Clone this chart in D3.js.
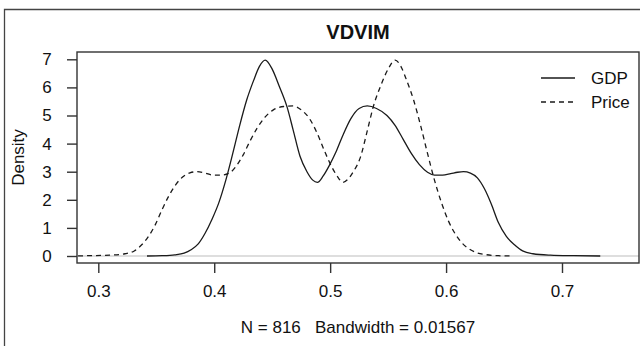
<!DOCTYPE html>
<html>
<head>
<meta charset="utf-8">
<script src="https://cdn.jsdelivr.net/npm/d3@7"></script>
<style>
  body { margin: 0; background: #fff; }
  svg text { font-family: "Liberation Sans", Arial, sans-serif; fill: #111; }
</style>
</head>
<body>
<div class="graph"></div>
<script>
var xTicks = [0.3, 0.4, 0.5, 0.6, 0.7];
var yTicks = [0, 1, 2, 3, 4, 5, 6, 7];

var gdpX = [0.342, 0.355, 0.366, 0.374, 0.380, 0.386, 0.392, 0.398, 0.404, 0.410, 0.416, 0.422, 0.428, 0.434, 0.439,
            0.444, 0.450, 0.456, 0.463, 0.468, 0.474, 0.480, 0.485, 0.489, 0.494, 0.499, 0.505, 0.511, 0.518, 0.525,
            0.532, 0.540, 0.549, 0.556, 0.563, 0.570, 0.577, 0.584, 0.590, 0.597, 0.604, 0.610, 0.615, 0.621, 0.627,
            0.633, 0.639, 0.645, 0.652, 0.659, 0.666, 0.675, 0.690, 0.710, 0.733];
var gdpY = [0.00, 0.01, 0.04, 0.10, 0.22, 0.42, 0.80, 1.30, 1.90, 2.70, 3.65, 4.65, 5.55, 6.25, 6.75,
            6.97, 6.65, 6.05, 5.28, 4.50, 3.55, 3.00, 2.70, 2.62, 2.85, 3.20, 3.70, 4.30, 4.90, 5.25,
            5.34, 5.25, 5.00, 4.65, 4.15, 3.65, 3.25, 2.98, 2.88, 2.88, 2.93, 2.98, 3.00, 2.95, 2.78,
            2.40, 1.85, 1.20, 0.70, 0.40, 0.18, 0.08, 0.03, 0.01, 0.00];

var priceX = [0.267, 0.290, 0.310, 0.323, 0.331, 0.337, 0.343, 0.349, 0.355, 0.361, 0.367, 0.373, 0.379, 0.385,
              0.392, 0.399, 0.406, 0.413, 0.419, 0.425, 0.431, 0.437, 0.444, 0.451, 0.460, 0.468, 0.475, 0.482,
              0.489, 0.495, 0.501, 0.506, 0.511, 0.515, 0.520, 0.526, 0.532, 0.537, 0.544, 0.550, 0.556, 0.561,
              0.566, 0.572, 0.578, 0.584, 0.590, 0.596, 0.602, 0.608, 0.614, 0.620, 0.626, 0.634, 0.645, 0.658];
var priceY = [0.00, 0.01, 0.03, 0.08, 0.18, 0.38, 0.68, 1.10, 1.65, 2.15, 2.55, 2.82, 2.96, 3.00,
              2.95, 2.88, 2.88, 2.95, 3.20, 3.60, 4.10, 4.55, 4.95, 5.20, 5.32, 5.34, 5.20, 4.90,
              4.35, 3.75, 3.20, 2.85, 2.62, 2.72, 3.00, 3.50, 4.45, 5.28, 6.10, 6.65, 6.97, 6.75,
              6.25, 5.55, 4.65, 3.65, 2.70, 1.90, 1.25, 0.78, 0.45, 0.25, 0.12, 0.05, 0.01, 0.00];

var seriesNames = ['GDP', 'Price'];
var chartTitle = 'VDVIM';
var subTitle = 'N = 816   Bandwidth = 0.01567';
var yTitle = 'Density';

// plot box
var box = { left: 77, top: 52, right: 639, bottom: 263 };

var x = d3.scaleLinear().domain([0.3, 0.7]).range([98.3, 562]);
var y = d3.scaleLinear().domain([0, 7]).range([256, 59.3]);

var svg = d3.select('.graph').append('svg')
    .attr('width', 640)
    .attr('height', 346);

// outer frame (top + left edges of the window)
svg.append('path')
    .attr('d', 'M4.5,346V9.5H640')
    .attr('fill', 'none')
    .attr('stroke', '#444')
    .attr('stroke-width', 1.3);

svg.append('clipPath').attr('id', 'clip')
  .append('rect')
    .attr('x', box.left).attr('y', box.top)
    .attr('width', box.right - box.left).attr('height', box.bottom - box.top);

// zero line
svg.append('line')
    .attr('x1', box.left).attr('x2', box.right)
    .attr('y1', y(0)).attr('y2', y(0))
    .attr('stroke', '#bebebe')
    .attr('stroke-width', 1.2);

var line = d3.line()
    .x(function(d) { return x(d[0]); })
    .y(function(d) { return y(d[1]); })
    .curve(d3.curveMonotoneX);

var plot = svg.append('g').attr('clip-path', 'url(#clip)');

plot.append('path')
    .datum(d3.zip(gdpX, gdpY))
    .attr('d', line)
    .attr('fill', 'none')
    .attr('stroke', '#1a1a1a')
    .attr('stroke-width', 1.3);

plot.append('path')
    .datum(d3.zip(priceX, priceY))
    .attr('d', line)
    .attr('fill', 'none')
    .attr('stroke', '#1a1a1a')
    .attr('stroke-width', 1.3)
    .attr('stroke-dasharray', '5,4');

// box
svg.append('rect')
    .attr('x', box.left).attr('y', box.top)
    .attr('width', box.right - box.left).attr('height', box.bottom - box.top)
    .attr('fill', 'none')
    .attr('stroke', '#333')
    .attr('stroke-width', 1.4);

// axes
var xAxis = d3.axisBottom(x).tickValues(xTicks).tickSize(10).tickPadding(12)
    .tickFormat(d3.format('.1f'));
var gx = svg.append('g')
    .attr('transform', 'translate(0,' + box.bottom + ')')
    .call(xAxis);
gx.select('.domain').remove();

var yAxis = d3.axisLeft(y).tickValues(yTicks).tickSize(10).tickPadding(14)
    .tickFormat(d3.format('d'));
var gy = svg.append('g')
    .attr('transform', 'translate(' + box.left + ',0)')
    .call(yAxis);
gy.select('.domain').remove();

svg.selectAll('.tick line').attr('stroke', '#333').attr('stroke-width', 1.4);
svg.selectAll('.tick text')
    .attr('font-size', 17)
    .attr('font-family', '"Liberation Sans", Arial, sans-serif')
    .attr('fill', '#111');
gy.selectAll('.tick text').attr('text-anchor', 'middle').attr('x', -30);

// titles
var midX = (box.left + box.right) / 2;
svg.append('text')
    .attr('x', midX).attr('y', 39)
    .attr('text-anchor', 'middle')
    .attr('font-size', 20)
    .attr('font-weight', 'bold')
    .text(chartTitle);

svg.append('text')
    .attr('x', midX).attr('y', 333)
    .attr('text-anchor', 'middle')
    .attr('font-size', 17)
    .style('white-space', 'pre')
    .text(subTitle);

svg.append('text')
    .attr('transform', 'translate(24,' + ((box.top + box.bottom) / 2) + ') rotate(-90)')
    .attr('text-anchor', 'middle')
    .attr('font-size', 17)
    .text(yTitle);

// legend
var legend = svg.append('g').selectAll('g')
    .data(seriesNames)
    .enter()
  .append('g')
    .attr('transform', function(d, i) { return 'translate(541,' + (78 + i * 24) + ')'; });

legend.append('line')
    .attr('x1', 0).attr('x2', 34)
    .attr('stroke', '#1a1a1a')
    .attr('stroke-width', 1.3)
    .attr('stroke-dasharray', function(d, i) { return i === 1 ? '5,4' : null; });

legend.append('text')
    .attr('x', 50).attr('y', 6)
    .attr('font-size', 17)
    .text(function(d) { return d; });
</script>
</body>
</html>
